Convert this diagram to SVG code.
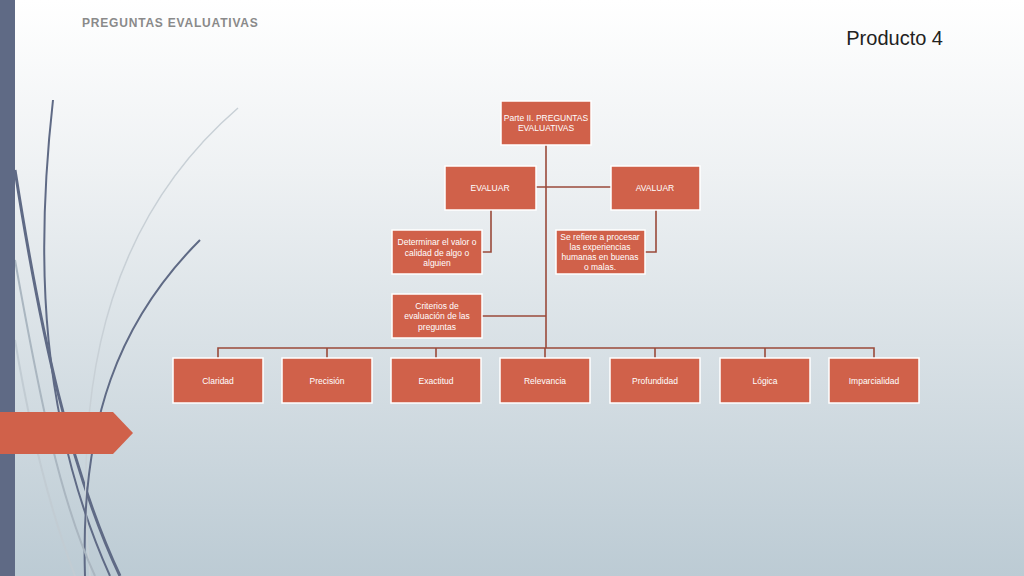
<svg xmlns="http://www.w3.org/2000/svg" width="1024" height="576" viewBox="0 0 1024 576">
<defs>
<linearGradient id="bg" x1="0" y1="0" x2="0" y2="1">
<stop offset="0" stop-color="#ffffff"/><stop offset="0.3" stop-color="#eef1f3"/><stop offset="1" stop-color="#bccbd4"/>
</linearGradient>
<style>
.n{fill:#D0614A;stroke:#fff;stroke-width:1.5}
.t{font-family:"Liberation Sans",Arial,sans-serif;font-size:8.5px;fill:#fff;text-anchor:middle}
.c{fill:none;stroke:#9a4a3a;stroke-width:1.6}
</style>
</defs>
<rect width="1024" height="576" fill="url(#bg)"/>
<g fill="none">
<path d="M53 100 C35 260 40 420 110 576" stroke="#5f6a85" stroke-width="2"/>
<path d="M15 170 C40 330 70 470 120 576" stroke="#5f6a85" stroke-width="3"/>
<path d="M238 108 C120 210 70 360 90 576" stroke="#c8d0d6" stroke-width="1.5"/>
<path d="M200 240 C120 320 80 420 85 576" stroke="#5f6a85" stroke-width="2"/>
<path d="M15 260 C40 400 60 500 95 576" stroke="#aab6c0" stroke-width="2"/>
<path d="M15 340 C30 430 50 510 75 576" stroke="#c2ccd3" stroke-width="2"/>
</g>
<rect x="0" y="0" width="15" height="576" fill="#5f6a85"/>
<path d="M0 412 H113 L133 433 L113 454 H0 Z" fill="#D0614A"/>
<text x="82" y="27" font-family="'Liberation Sans',Arial,sans-serif" font-size="12" font-weight="bold" fill="#8a8a8a" letter-spacing="0.8">PREGUNTAS EVALUATIVAS</text>
<text x="943" y="45" font-family="'Liberation Sans',Arial,sans-serif" font-size="20" fill="#222" text-anchor="end">Producto 4</text>
<g id="connectors" class="c">
<path d="M546 145 V348"/><path d="M536 187 H611"/>
<path d="M491 210 V252 H482"/><path d="M656 210 V252 H645"/>
<path d="M482 316 H546"/>
<path d="M218 358 V348 H874 V358"/>
<path d="M327 348 V358 M436 348 V358 M545 348 V358 M655 348 V358 M765 348 V358"/>
</g>
<g id="root"><rect class="n" x="501" y="101" width="90" height="44"/><text class="t" x="546" y="121">Parte II. PREGUNTAS</text><text class="t" x="546" y="131">EVALUATIVAS</text></g>
<g id="evaluar"><rect class="n" x="445" y="166" width="91" height="44"/><text class="t" x="490" y="191">EVALUAR</text></g>
<g id="avaluar"><rect class="n" x="611" y="166" width="89" height="44"/><text class="t" x="655" y="191">AVALUAR</text></g>
<g id="determinar"><rect class="n" x="392" y="230" width="90" height="44"/><text class="t" x="437" y="245">Determinar el valor o</text><text class="t" x="437" y="256">calidad de algo o</text><text class="t" x="437" y="266">alguien</text></g>
<g id="refiere"><rect class="n" x="556" y="230" width="89" height="44"/><text class="t" x="600" y="240">Se refiere a procesar</text><text class="t" x="600" y="250">las experiencias</text><text class="t" x="600" y="260">humanas en buenas</text><text class="t" x="600" y="270">o malas.</text></g>
<g id="criterios"><rect class="n" x="392" y="294" width="90" height="44"/><text class="t" x="437" y="309">Criterios de</text><text class="t" x="437" y="319">evaluación de las</text><text class="t" x="437" y="330">preguntas</text></g>
<g id="claridad"><rect class="n" x="173" y="358" width="90" height="45"/><text class="t" x="218" y="384">Claridad</text></g>
<g id="precision"><rect class="n" x="282" y="358" width="90" height="45"/><text class="t" x="327" y="384">Precisión</text></g>
<g id="exactitud"><rect class="n" x="391" y="358" width="90" height="45"/><text class="t" x="436" y="384">Exactitud</text></g>
<g id="relevancia"><rect class="n" x="500" y="358" width="90" height="45"/><text class="t" x="545" y="384">Relevancia</text></g>
<g id="profundidad"><rect class="n" x="610" y="358" width="90" height="45"/><text class="t" x="655" y="384">Profundidad</text></g>
<g id="logica"><rect class="n" x="720" y="358" width="90" height="45"/><text class="t" x="765" y="384">Lógica</text></g>
<g id="imparcialidad"><rect class="n" x="829" y="358" width="90" height="45"/><text class="t" x="874" y="384">Imparcialidad</text></g>
</svg>
